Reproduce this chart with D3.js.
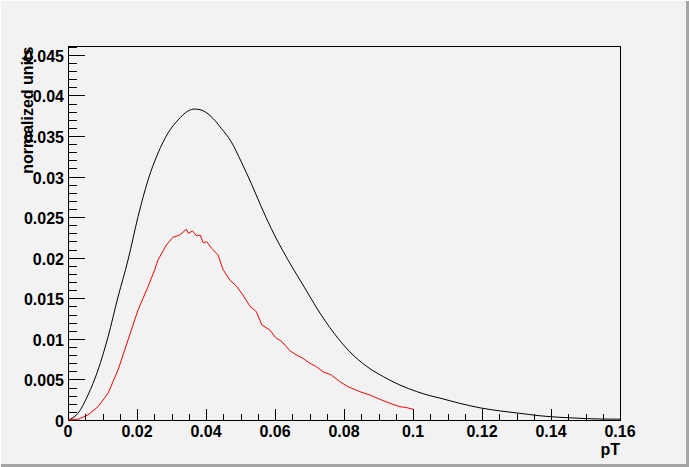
<!DOCTYPE html>
<html lang="en">
<head>
  <meta charset="utf-8">
  <title>pT normalized</title>
  <script src="https://d3js.org/d3.v7.min.js"></script>
</head>
<style>
  body { margin: 0; background: #f2f2f2; }
  text { font-family: "Liberation Sans", Arial, sans-serif; font-weight: bold; font-size: 16px; fill: #000; }
</style>
<body>
  <div class="chart"></div>
</body>
<script>
// black histogram (all events)
var blackX = [0, 0.0029, 0.0058, 0.0087, 0.0116, 0.0145, 0.0174, 0.0203, 0.0232, 0.0261, 0.0290, 0.0319,
  0.0348, 0.0367, 0.0386, 0.0420, 0.0444, 0.0473, 0.0502, 0.0531, 0.0560, 0.0589, 0.0638, 0.0686, 0.0721,
  0.0771, 0.0817, 0.0866, 0.0914, 0.0962, 0.1011, 0.1049, 0.1078, 0.1136, 0.1194, 0.1252, 0.1310, 0.1368,
  0.1426, 0.1484, 0.1542, 0.1600];
var blackY = [0, 0.00083, 0.00308, 0.00616, 0.01023, 0.01516, 0.01972, 0.02505, 0.02957, 0.0329, 0.03537, 0.03697,
  0.03808, 0.03832, 0.0382, 0.03718, 0.03595, 0.0343, 0.03183, 0.02917, 0.0263, 0.0236, 0.0197, 0.0163, 0.0138,
  0.0107, 0.0084, 0.0066, 0.00534, 0.00431, 0.0035, 0.0030, 0.0027, 0.00205, 0.0015, 0.00112, 0.00082, 0.00052,
  0.00033, 0.00021, 0.00012, 0.0001];

// red histogram (selected)
var redX = [0, 0.0029, 0.0058, 0.0087, 0.0116, 0.0145, 0.0174, 0.0203, 0.0232, 0.0251, 0.0261, 0.0285, 0.0304,
  0.0324, 0.0343, 0.0349, 0.0361, 0.0373, 0.0383, 0.0392, 0.0402, 0.0416, 0.0431, 0.0435, 0.0449, 0.0469, 0.0488,
  0.0507, 0.0527, 0.0546, 0.0562, 0.0585, 0.0601, 0.0620, 0.0643, 0.0662, 0.0681, 0.0701, 0.0720, 0.0739, 0.0763,
  0.0788, 0.0812, 0.0846, 0.0875, 0.0904, 0.0933, 0.0962, 0.0982, 0.1001];
var redY = [0, 0.00009, 0.00062, 0.00164, 0.00329, 0.00616, 0.00986, 0.01356, 0.01643, 0.01848, 0.01972, 0.02157, 0.02251,
  0.0228, 0.0235, 0.0230, 0.0233, 0.02267, 0.0228, 0.02185, 0.02197, 0.02116, 0.02054, 0.02033, 0.01857, 0.01725, 0.01651,
  0.0154, 0.01405, 0.01335, 0.01171, 0.01109, 0.01019, 0.00965, 0.00854, 0.00801, 0.0076, 0.00699, 0.00657, 0.00595, 0.00555,
  0.00472, 0.0041, 0.00349, 0.00308, 0.00255, 0.00206, 0.00164, 0.00152, 0.00132];

var xTicks = [0, 0.02, 0.04, 0.06, 0.08, 0.1, 0.12, 0.14, 0.16];
var yTicks = [0, 0.005, 0.01, 0.015, 0.02, 0.025, 0.03, 0.035, 0.04, 0.045];
var xTitle = "pT";
var yTitle = "normalized units";

var W = 689, H = 467;
var margin = { top: 46.7, left: 68, right: 69, bottom: 47 };

var svg = d3.select(".chart")
  .append("svg")
  .attr("width", W)
  .attr("height", H);

// canvas with bevelled border
svg.append("rect").attr("width", W).attr("height", H).attr("fill", "#f2f2f2");
svg.append("path").attr("d", "M0.5,466 V0.5 H688").attr("fill", "none").attr("stroke", "#ffffff");
svg.append("path").attr("d", "M1,465.5 H687.5 V1").attr("fill", "none").attr("stroke", "#a5a5a5").attr("stroke-width", 3);

var x = d3.scaleLinear().domain([0, 0.16]).range([margin.left, W - margin.right]);
var y = d3.scaleLinear().domain([0, 0.046]).range([H - margin.bottom, margin.top]);

var x0 = x(0), x1 = x(0.16), y0 = y(0), y1 = y(0.046);

// frame
svg.append("rect")
  .attr("x", x0).attr("y", y1)
  .attr("width", x1 - x0).attr("height", y0 - y1)
  .attr("fill", "none").attr("stroke", "#000").attr("shape-rendering", "crispEdges");

// y axis ticks (inside), minor every 0.001
var g = svg.append("g").attr("shape-rendering", "crispEdges");
d3.range(0, 47).forEach(function(i){
  var v = i * 0.001;
  var len = (i % 5 === 0) ? 17 : 9;
  g.append("line")
    .attr("x1", x0).attr("x2", x0 + len)
    .attr("y1", Math.round(y(v)) + 0.5).attr("y2", Math.round(y(v)) + 0.5)
    .attr("stroke", "#000");
});
// x axis ticks, minor every 0.005
d3.range(0, 33).forEach(function(i){
  var v = i * 0.005;
  var len = (i % 4 === 0) ? 11 : 6;
  g.append("line")
    .attr("x1", Math.round(x(v)) + 0.5).attr("x2", Math.round(x(v)) + 0.5)
    .attr("y1", y0).attr("y2", y0 - len)
    .attr("stroke", "#000");
});

// tick labels
svg.selectAll(".ylab")
  .data(yTicks)
  .enter().append("text")
  .attr("class", "ylab")
  .attr("x", x0 - 4)
  .attr("y", function(d){ return y(d) + 7; })
  .style("text-anchor", "end")
  .text(function(d){ return d; });

svg.selectAll(".xlab")
  .data(xTicks)
  .enter().append("text")
  .attr("class", "xlab")
  .attr("x", function(d){ return x(d); })
  .attr("y", y0 + 17)
  .style("text-anchor", "middle")
  .text(function(d){ return d; });

// axis titles
svg.append("text")
  .attr("x", x1)
  .attr("y", y0 + 35)
  .style("text-anchor", "end")
  .text(xTitle);

svg.append("text")
  .attr("transform", "translate(33," + y1 + ") rotate(-90)")
  .style("text-anchor", "end")
  .text(yTitle);

// curves
var smooth = d3.line()
  .curve(d3.curveMonotoneX)
  .x(function(d){ return x(d[0]); })
  .y(function(d){ return y(d[1]); });

var jagged = d3.line()
  .x(function(d){ return x(d[0]); })
  .y(function(d){ return y(d[1]); });

svg.append("path")
  .datum(d3.zip(blackX, blackY))
  .attr("d", smooth)
  .attr("fill", "none")
  .attr("stroke", "#000")
  .attr("stroke-width", 1);

svg.append("path")
  .datum(d3.zip(redX, redY))
  .attr("d", jagged)
  .attr("fill", "none")
  .attr("stroke", "#ff0000")
  .attr("stroke-width", 1);
</script>
</html>
